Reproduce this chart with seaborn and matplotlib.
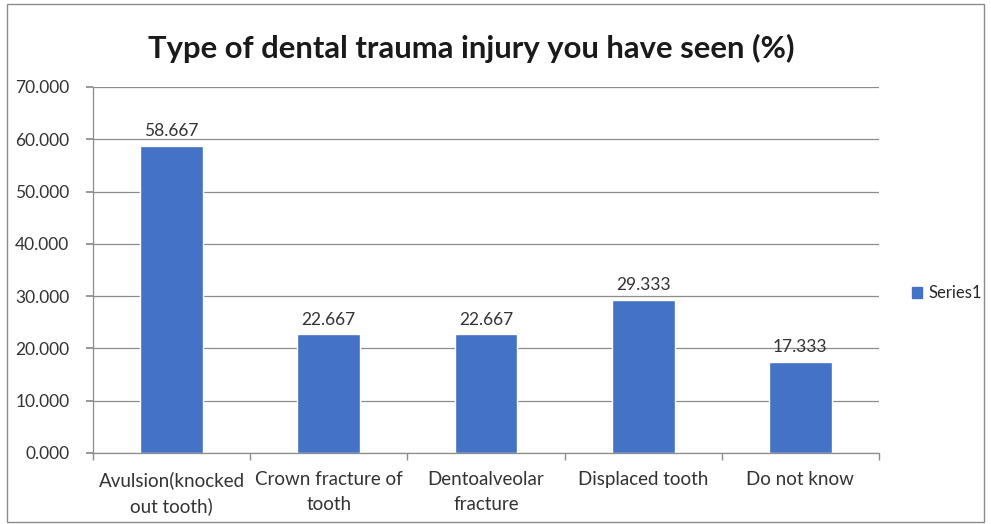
import numpy as np
import pandas as pd
import seaborn as sns
import matplotlib.pyplot as plt
from matplotlib.patches import Rectangle, Patch
from matplotlib.ticker import FormatStrFormatter, FixedLocator

# data
categories = ['Avulsion(knocked\nout tooth)', 'Crown fracture of\ntooth',
              'Dentoalveolar\nfracture', 'Displaced tooth', 'Do not know']
values = [58.667, 22.667, 22.667, 29.333, 17.333]
series_name = 'Series1'

sns.set_theme(style='white')
plt.rcParams['font.family'] = ['Lato', 'DejaVu Sans']

df = pd.DataFrame({'category': categories, 'value': values})

fig = plt.figure(figsize=(9.91, 5.24), dpi=100)
ax = fig.add_axes([0.0938, 0.1355, 0.7932, 0.6985])

sns.barplot(data=df, x='category', y='value', color='#4472C4', width=0.4,
            saturation=1, ax=ax)

ax.bar_label(ax.containers[0], fmt='%.3f', padding=5, fontsize=12.5, color='#333333')

ax.set_ylim(0, 70)
ax.set_xlim(-0.5, len(categories) - 0.5)
ax.set_yticks(np.arange(0, 71, 10))
ax.yaxis.set_major_formatter(FormatStrFormatter('%.3f'))
ax.grid(axis='y', color='#8c8c8c', linewidth=0.9)
ax.set_axisbelow(True)

ax.set_xlabel('')
ax.set_ylabel('')
for s in ['top', 'right']:
    ax.spines[s].set_visible(False)
for s in ['left', 'bottom']:
    ax.spines[s].set_color('#8c8c8c')
    ax.spines[s].set_linewidth(0.9)

ax.tick_params(axis='y', which='major', left=True, length=5, color='#8c8c8c',
               labelsize=12.5, labelcolor='#333333', pad=12)
ax.tick_params(axis='x', which='major', length=0, labelsize=13.5,
               labelcolor='#333333', pad=13)
for lbl in ax.get_xticklabels():
    lbl.set_linespacing(1.55)
ax.xaxis.set_minor_locator(FixedLocator(np.arange(-0.5, len(categories), 1.0)))
ax.tick_params(axis='x', which='minor', bottom=True, length=5, color='#8c8c8c')

fig.suptitle('Type of dental trauma injury you have seen (%)', x=0.476, y=0.935,
             fontsize=22.3, fontweight='bold', color='#1a1a1a')

fig.legend(handles=[Patch(color='#4472C4', label=series_name)],
           loc='center left', bbox_to_anchor=(0.905, 0.44), frameon=False,
           fontsize=12, handlelength=0.6, handleheight=0.6, handletextpad=0.4)

fig.patches.append(Rectangle((0.007, 0.004), 0.986, 0.988, transform=fig.transFigure,
                             fill=False, edgecolor='#8c8c8c', linewidth=1))

fig.savefig('out.png', dpi=100)
